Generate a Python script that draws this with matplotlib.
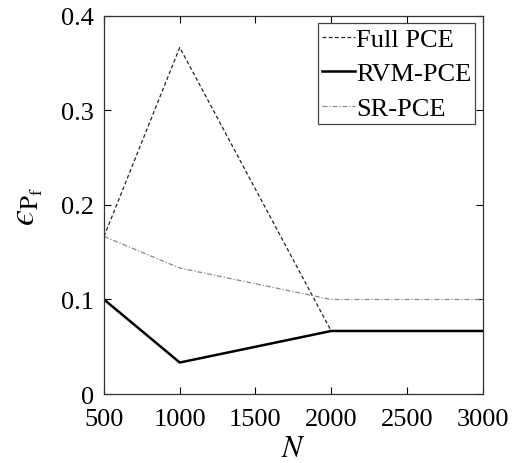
import matplotlib
matplotlib.use("Agg")
import matplotlib.pyplot as plt

plt.rcParams['font.family'] = ['Liberation Serif', 'DejaVu Serif']
plt.rcParams['mathtext.fontset'] = 'stix'

# Sample sizes and relative errors of the failure probability estimate
N = [500, 1000, 2000, 2500, 3000]
full_pce = [0.1667, 0.3667, 0.0667, 0.0667, 0.0667]
rvm_pce = [0.1, 0.0333, 0.0667, 0.0667, 0.0667]
sr_pce = [0.1667, 0.1333, 0.1, 0.1, 0.1]

fig = plt.figure(figsize=(5.18, 4.64), dpi=100)
ax = fig.add_axes([0.2008, 0.1487, 0.731, 0.8147])

ax.plot(N, full_pce, color='#222222', linestyle=(0, (3, 2)), linewidth=0.9, label='Full PCE')
ax.plot(N, rvm_pce, color='black', linestyle='-', linewidth=1.8, label='RVM-PCE')
ax.plot(N, sr_pce, color='#8a8a8a', linestyle=(0, (4, 1.5, 1, 1.5)), linewidth=0.9, label='SR-PCE')

ax.set_xlim(500, 3000)
ax.set_ylim(0, 0.4)
ax.set_xticks([500, 1000, 1500, 2000, 2500, 3000])
ax.set_yticks([0, 0.1, 0.2, 0.3, 0.4])
ax.set_yticklabels(['0', '0.1', '0.2', '0.3', '0.4'])

ax.tick_params(direction='in', top=True, right=True, length=5, width=0.8,
               labelsize=19, colors='black')
ax.tick_params(axis='x', pad=10)
ax.tick_params(axis='y', pad=7)
for s in ax.spines.values():
    s.set_linewidth(0.9)
    s.set_color('#333333')

ax.set_xlabel(r'$N$', fontsize=22, labelpad=3)
ax.set_ylabel('$\u03f5_{\\mathrm{P}_{\\mathrm{f}}}$', fontsize=26, labelpad=12)

leg = ax.legend(loc='upper right', fontsize=19, handlelength=1.25, handletextpad=0.05,
                borderpad=0.15, labelspacing=0.42, borderaxespad=0.28,
                fancybox=False, framealpha=1)
leg.get_frame().set_edgecolor('#444444')
leg.get_frame().set_linewidth(0.9)

fig.savefig('out.png', dpi=100)
